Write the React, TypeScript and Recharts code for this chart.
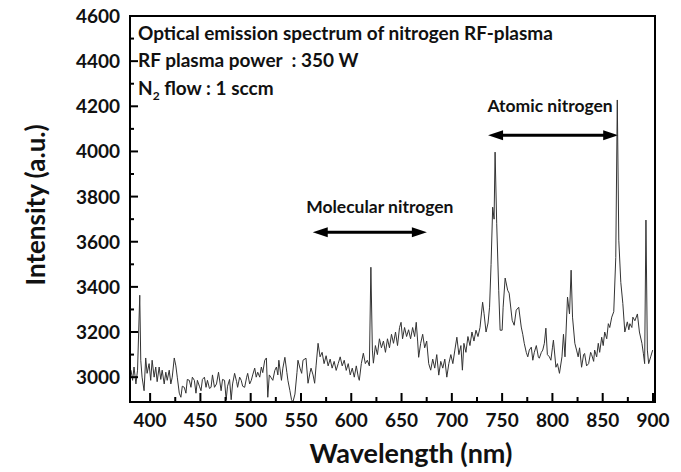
import { LineChart, Line, XAxis, YAxis, ReferenceLine, ReferenceArea } from "recharts";

// wavelength (nm) and intensity (a.u.)
const wavelengths = [
  381, 382.6, 384, 385.9, 387.5, 389.7, 390.7, 392, 394, 395.6, 397, 399, 400.6, 402, 404, 405.6, 407, 409,
  410.6, 412, 414, 415.6, 417, 419, 420.6, 422, 424, 425.6, 427, 429, 430.6, 432, 434, 435.6, 437, 439, 440.6,
  442, 444, 445.6, 447, 449, 450.6, 452, 454, 455.6, 457, 459, 460.6, 462, 464, 466, 468, 470.6, 472, 474,
  475.6, 477, 479, 480.6, 482, 484, 486, 487, 489, 490.6, 492, 494, 496, 497, 499, 500.6, 502, 504, 505.5,
  507, 509, 510.6, 512, 514, 515.6, 517, 518.5, 520, 522, 524, 525.6, 527, 528, 530.6, 532, 534, 536, 537,
  539, 540.6, 542, 544, 546, 547, 549, 550.7, 552, 555, 557, 559, 560, 562, 563.6, 565, 567, 569, 571, 573,
  575, 577, 579, 581, 583, 585, 587, 589, 591, 593, 595, 597, 599, 601, 603, 605, 607, 608, 610, 612, 614,
  616, 618, 619.5, 621, 622, 624, 626, 628, 630, 632, 634, 636, 638, 640, 642, 644, 646, 648, 649.5, 651,
  653, 655, 657, 659, 661, 663, 664.6, 666, 667, 669, 671, 673, 675, 677, 679, 681, 683, 685, 687, 689, 691,
  693, 695, 697, 699, 701, 703, 705, 707, 709, 710.5, 712, 714, 716, 718, 720, 722, 724, 726, 728, 730.6,
  732, 734, 736, 737.5, 739, 740.6, 742, 743, 744.6, 746.6, 748, 750, 751, 753, 755.5, 757, 760, 762, 764,
  766.5, 769, 770.5, 772, 774, 775.5, 777, 779, 780.5, 782, 784, 786, 787, 789, 790.4, 792, 793.5, 795, 797,
  798.5, 800, 801, 803.5, 805, 807, 809.5, 811, 812.5, 815, 817, 818.6, 820, 822.3, 824, 825.6, 827, 829,
  831, 832, 834, 836, 838, 839, 841, 842, 844, 845.6, 847, 849, 850.5, 852, 854, 855.6, 857, 859, 861, 863,
  864.5, 866, 868, 870, 872, 874.5, 876, 877, 879, 880, 882, 884.5, 886.5, 889, 890.4, 891.7, 893, 894.4,
  895.7, 897.7, 899.7,
];
const intensities = [
  3031, 2986, 3045, 2970, 3031, 3363, 3075, 3000, 2940, 3085, 3017, 3060, 2986, 3075, 3000, 3045, 2980, 3045,
  2990, 3031, 2970, 3022, 2986, 3031, 2970, 3000, 3085, 3050, 3000, 2929, 2911, 2960, 2955, 2929, 2990, 2986, 2955,
  3000, 2986, 2929, 2986, 2960, 2940, 2990, 3000, 2955, 2986, 2950, 2955, 3010, 2955, 2970, 3022, 2940, 2990, 2986,
  2900, 2960, 2990, 2900, 2970, 3017, 2980, 2955, 3000, 2986, 2960, 2955, 3000, 3017, 2970, 2986, 3010, 3040, 3000,
  3022, 3000, 3045, 3020, 3075, 3085, 2911, 3010, 3000, 2986, 3030, 3045, 3010, 3075, 2986, 3040, 3088, 3020, 2986,
  2940, 2900, 2890, 2925, 3020, 3075, 3040, 3017, 3075, 3084, 2973, 3020, 3040, 3010, 2973, 3050, 3150, 3090, 3110, 3060,
  3095, 3050, 3080, 3040, 3070, 3030, 3060, 3090, 3050, 3075, 3030, 3060, 3010, 3040, 3000, 3050, 3000, 2986, 3060, 3106, 3060,
  3075, 3050, 3487, 3120, 3062, 3140, 3100, 3170, 3130, 3160, 3110, 3170, 3130, 3190, 3150, 3200, 3140, 3220, 3243, 3170,
  3220, 3180, 3210, 3170, 3220, 3180, 3243, 3160, 3088, 3150, 3190, 3130, 3160, 3060, 3031, 3080, 3040, 3100, 3009, 3070, 3040,
  3080, 3000, 3060, 3100, 3060, 3120, 3177, 3100, 3140, 3031, 3150, 3110, 3180, 3140, 3200, 3160, 3208, 3180, 3220, 3332,
  3283, 3200, 3240, 3310, 3500, 3753, 3700, 3997, 3682, 3385, 3208, 3208, 3310, 3439, 3385, 3372, 3252, 3230, 3297,
  3310, 3222, 3190, 3150, 3110, 3090, 3120, 3133, 3075, 3110, 3140, 3090, 3084, 3110, 3120, 3150, 3217, 3100, 3090,
  3075, 3130, 3164, 3044, 3060, 3017, 3090, 3190, 3090, 3355, 3280, 3474, 3266, 3150, 3120, 3090, 3130, 3044,
  3100, 3105, 3050, 3060, 3110, 3100, 3070, 3120, 3090, 3150, 3110, 3177, 3140, 3200, 3170, 3237, 3220, 3266, 3290, 3530,
  4228, 3607, 3420, 3327, 3200, 3245, 3210, 3237, 3220, 3266, 3250, 3280, 3200, 3150, 3106, 3060, 3696, 3120,
  3060, 3090, 3120,
];

const xTicks = [400, 425, 450, 475, 500, 525, 550, 575, 600, 625, 650, 675, 700, 725, 750, 775, 800, 825, 850, 875, 900];
const yTicks = [3000, 3100, 3200, 3300, 3400, 3500, 3600, 3700, 3800, 3900, 4000, 4100, 4200, 4300, 4400, 4500, 4600];
const xDomain = [380, 902];
const yDomain = [2890, 4600];

const infoLines = ["Optical emission spectrum of nitrogen RF-plasma", "RF plasma power  : 350 W"];

// double-headed arrows marking the line regions
const regions = [
  { from: 561.7, to: 675.2, level: 3642, label: "Molecular nitrogen", dx: 10, dy: -19 },
  { from: 736, to: 865.4, level: 4072, label: "Atomic nitrogen", dx: -3, dy: -23 },
];

const data = wavelengths.map((w, i) => ({ w, v: intensities[i] }));

const FONT = "Lato, 'Open Sans', sans-serif";

const XTick = (props: any) => {
  const { x, y, payload } = props;
  const major = payload.value % 50 === 0;
  return (
    <g>
      <line x1={x} x2={x} y1={y} y2={y - (major ? 9 : 5)} stroke="#000" strokeWidth={2} />
      {major && (
        <text x={x} y={y + 25} textAnchor="middle" fontSize={19} fontWeight={700} fontFamily={FONT} fill="#111">
          {payload.value}
        </text>
      )}
    </g>
  );
};

const YTick = (props: any) => {
  const { x, y, payload } = props;
  const major = payload.value % 200 === 0;
  return (
    <g>
      <line x1={x} x2={x + (major ? 8 : 4)} y1={y} y2={y} stroke="#000" strokeWidth={2} />
      {major && (
        <text x={x - 10} y={y + 7} textAnchor="end" fontSize={19} fontWeight={700} fontFamily={FONT} fill="#111">
          {payload.value}
        </text>
      )}
    </g>
  );
};

const arrowShape = (label: string, dx: number, dy: number) => (p: any) => {
  const { x1, y1, x2, y2 } = p;
  const h = 15;
  const w = 5;
  return (
    <g>
      <line x1={x1 + h - 2} y1={y1} x2={x2 - h + 2} y2={y2} stroke="#000" strokeWidth={3} />
      <polygon points={`${x1},${y1} ${x1 + h},${y1 - w} ${x1 + h},${y1 + w}`} fill="#000" />
      <polygon points={`${x2},${y2} ${x2 - h},${y2 - w} ${x2 - h},${y2 + w}`} fill="#000" />
      <text
        x={(x1 + x2) / 2 + dx}
        y={y1 + dy}
        textAnchor="middle"
        fontSize={17.5}
        fontWeight={700}
        fontFamily={FONT}
        fill="#111"
      >
        {label}
      </text>
    </g>
  );
};

export default function App() {
  return (
    <div style={{ position: "absolute", left: 0, top: 0, width: 681, height: 472, background: "#fff" }}>
      <LineChart width={681} height={472} data={data} margin={{ top: 16, right: 26, bottom: 10, left: 10 }}>
        <XAxis
          dataKey="w"
          type="number"
          domain={xDomain}
          ticks={xTicks}
          interval={0}
          height={60}
          tickSize={0}
          tickMargin={0}
          tick={<XTick />}
          axisLine={{ stroke: "#000", strokeWidth: 2 }}
          allowDataOverflow
        />
        <YAxis
          type="number"
          domain={yDomain}
          ticks={yTicks}
          interval={0}
          width={120}
          tickSize={0}
          tickMargin={0}
          tick={<YTick />}
          axisLine={{ stroke: "#000", strokeWidth: 2 }}
          allowDataOverflow
        />
        <ReferenceArea
          x1={xDomain[0]}
          x2={xDomain[1]}
          y1={yDomain[0]}
          y2={yDomain[1]}
          fill="none"
          stroke="#000"
          strokeWidth={2}
        />
        {regions.map((r) => (
          <ReferenceLine
            key={r.label}
            segment={[
              { x: r.from, y: r.level },
              { x: r.to, y: r.level },
            ]}
            shape={arrowShape(r.label, r.dx, r.dy)}
          />
        ))}
        <Line
          type="linear"
          dataKey="v"
          stroke="#333"
          strokeWidth={1}
          dot={false}
          isAnimationActive={false}
        />
      </LineChart>
      <svg
        width={681}
        height={472}
        style={{ position: "absolute", left: 0, top: 0, pointerEvents: "none" }}
        fontFamily={FONT}
        fontWeight={700}
        fill="#111"
      >
        <text x={138} y={40} fontSize={19}>{infoLines[0]}</text>
        <text x={138} y={67} fontSize={19} style={{ whiteSpace: "pre" }}>{infoLines[1]}</text>
        <text x={138} y={95} fontSize={19}>
          N<tspan fontSize={12} dy={5}>2</tspan>
          <tspan dy={-5}> flow : 1 sccm</tspan>
        </text>
        <text x={411} y={463} fontSize={27} textAnchor="middle">Wavelength (nm)</text>
        <text x={45} y={205} fontSize={26} textAnchor="middle" transform="rotate(-90, 45, 205)">
          Intensity (a.u.)
        </text>
      </svg>
    </div>
  );
}
